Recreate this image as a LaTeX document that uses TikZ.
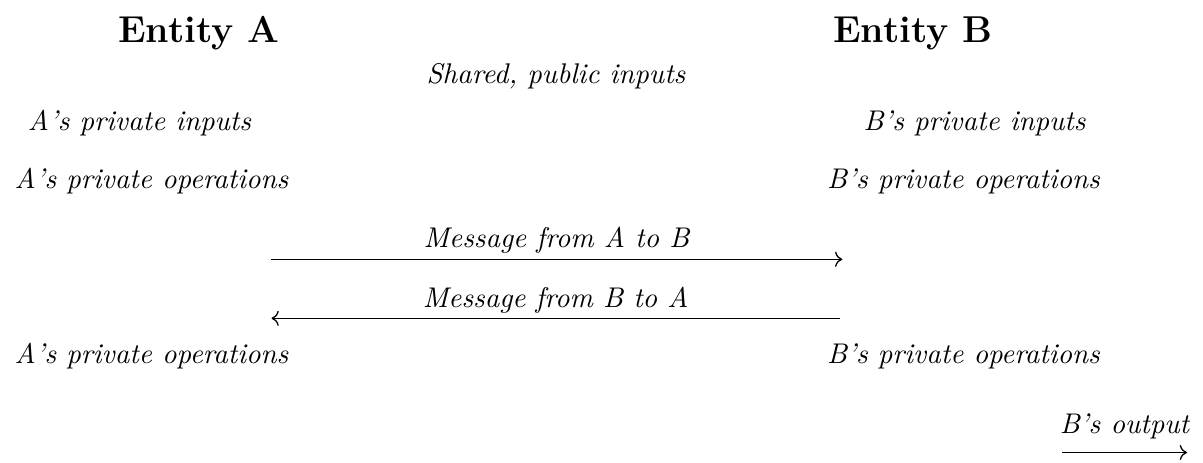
\documentclass[tikz,border=0pt]{standalone}
\usetikzlibrary{arrows.meta}
\begin{document}
\begin{tikzpicture}[x=0.384615pt, y=-0.384615pt,
  head/.style={anchor=base, inner sep=0pt, font=\fontsize{14.4}{18}\selectfont\bfseries},
  lab/.style={anchor=base, inner sep=0pt, font=\fontsize{10.95}{13.6}\selectfont\itshape},
  msg/.style={-{Computer Modern Rightarrow[length=2.8pt, width=5.8pt]}, line width=0.5pt}]
\useasboundingbox (0,0) rectangle (1203,463);

% party headings
\node[head] (ea) at (199,43) {Entity A};
\node[head] (eb) at (913,43) {Entity B};

% inputs
\node[lab] (shared) at (556,84) {Shared, public inputs};
\node[lab] (ain) at (139.5,130) {A's private inputs};
\node[lab] (bin) at (974.5,130) {B's private inputs};

% first round of local work
\node[lab] (aop1) at (151.5,188) {A's private operations};
\node[lab] (bop1) at (963.5,188) {B's private operations};

% message exchange
\coordinate (m1s) at (270.7,259.3);
\coordinate (m1e) at (842.3,259.3);
\draw[msg] (m1s) -- node[lab, midway, yshift=4.6pt] (m1) {Message from A to B} (m1e);

\coordinate (m2s) at (840,318.3);
\coordinate (m2e) at (271.5,318.3);
\draw[msg] (m2s) -- node[lab, midway, yshift=4.3pt] (m2) {Message from B to A} (m2e);

% second round of local work
\node[lab] (aop2) at (151.5,363) {A's private operations};
\node[lab] (bop2) at (963.5,363) {B's private operations};

% result
\coordinate (os) at (1062,452.5);
\coordinate (oe) at (1187,452.5);
\draw[msg] (os) -- node[lab, midway, yshift=7.5pt] (out) {B's output} (oe);
\end{tikzpicture}
\end{document}
